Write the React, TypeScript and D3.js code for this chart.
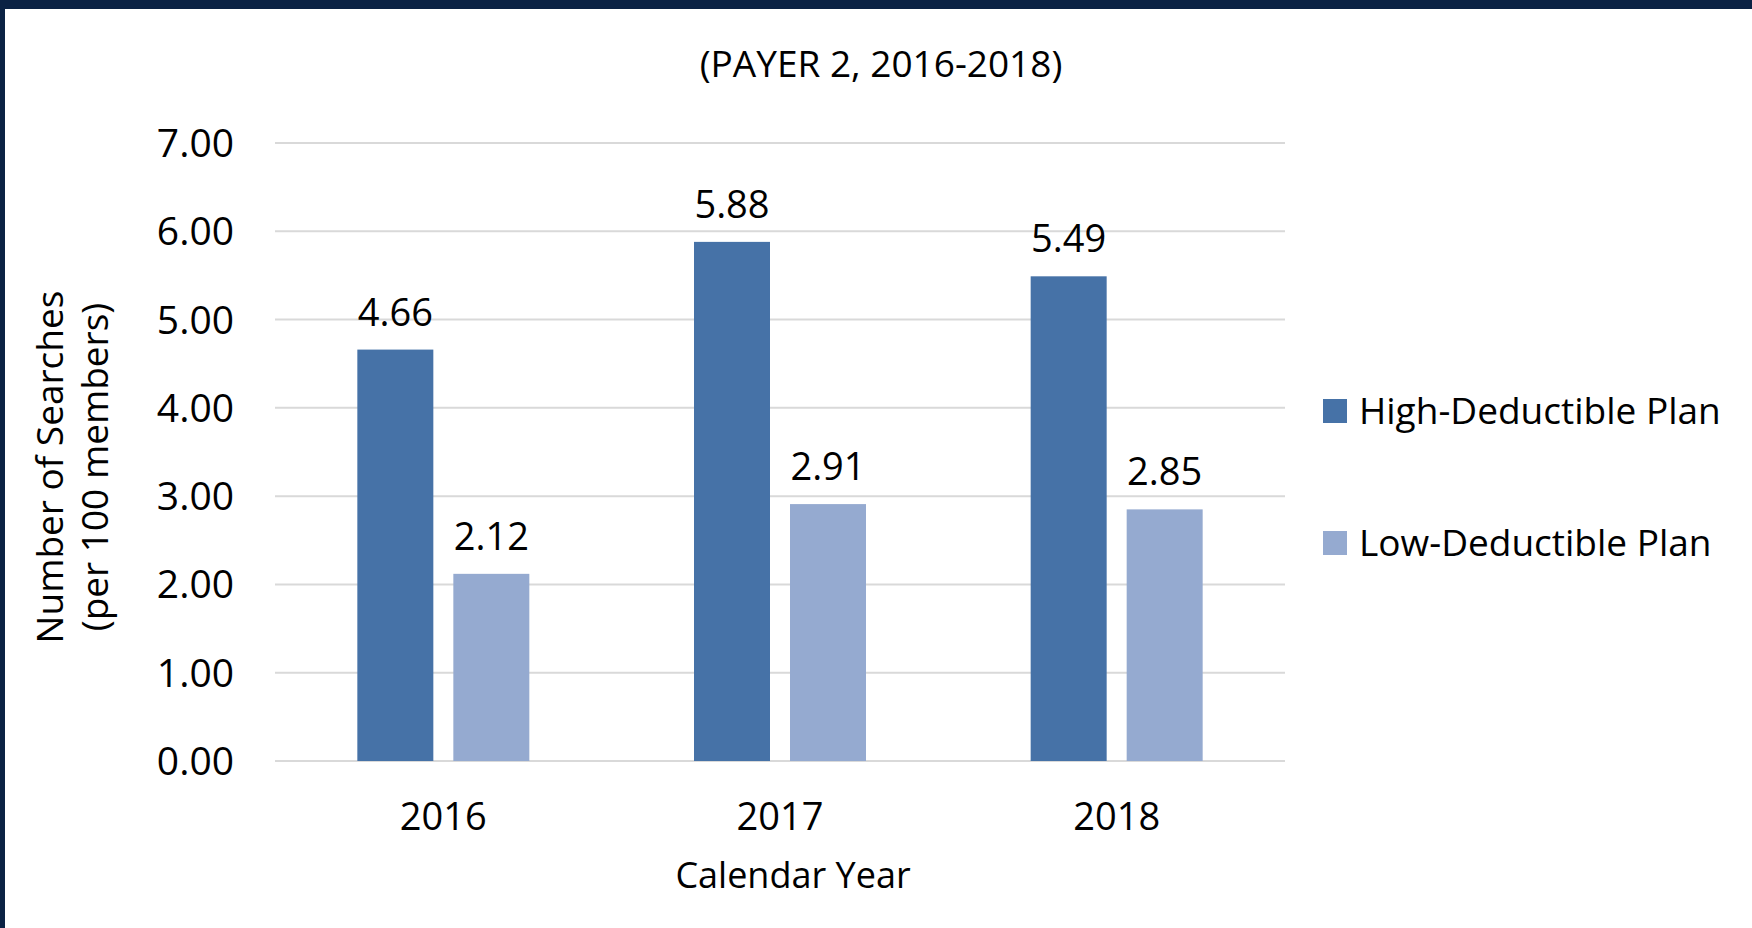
import React from "react";
import * as d3 from "d3";

const years = ["2016", "2017", "2018"];
const seriesNames = ["High-Deductible Plan", "Low-Deductible Plan"];
const highValues = [4.66, 5.88, 5.49];
const lowValues = [2.12, 2.91, 2.85];
const yTicks = [0, 1, 2, 3, 4, 5, 6, 7];
const colors = ["#4672A7", "#95AAD0"];

const W = 1752;
const H = 928;
const FONT = "'Open Sans', sans-serif";

export default function App() {
  const left = 275, right = 1285, top = 143, bottom = 761;
  const y = d3.scaleLinear().domain([0, 7]).range([bottom, top]);
  const x = d3.scaleBand().domain(years).range([left, right]).paddingInner(0).paddingOuter(0);
  const barW = 76, gap = 20;
  const series = [highValues, lowValues];
  const inner = d3.scaleBand().domain(["0", "1"]).range([0, barW * 2 + gap]).paddingInner(gap / (barW + gap));
  const groupW = barW * 2 + gap;

  return (
    <svg width={W} height={H} style={{ position: "absolute", left: 0, top: 0, background: "#fff" }} fontFamily={FONT}>
      <rect x={0} y={0} width={W} height={H} fill="#fff" />
      <rect x={0} y={0} width={W} height={9} fill="#0B2244" />
      <rect x={0} y={0} width={5} height={H} fill="#0B2244" />

      <text x={881} y={77} textAnchor="middle" fontSize={37} fill="#000">(PAYER 2, 2016-2018)</text>

      {yTicks.map((t) => (
        <g key={t}>
          <line x1={left} x2={right} y1={y(t)} y2={y(t)} stroke="#D9D9D9" strokeWidth={2} />
          <text x={234} y={y(t) + 14} textAnchor="end" fontSize={39} fill="#000">{t.toFixed(2)}</text>
        </g>
      ))}

      {years.map((yr, i) => {
        const gx = (x(yr) as number) + x.bandwidth() / 2 - groupW / 2;
        return (
          <g key={yr}>
            {series.map((vals, s) => {
              const bx = gx + (inner(String(s)) as number);
              const v = vals[i];
              return (
                <g key={s}>
                  <rect x={bx} y={y(v)} width={inner.bandwidth()} height={bottom - y(v)} fill={colors[s]} />
                  <text x={bx + inner.bandwidth() / 2} y={y(v) - 24} textAnchor="middle" fontSize={38} fill="#000">{v.toFixed(2)}</text>
                </g>
              );
            })}
            <text x={(x(yr) as number) + x.bandwidth() / 2} y={830} textAnchor="middle" fontSize={38} fill="#000">{yr}</text>
          </g>
        );
      })}

      <text x={793} y={888} textAnchor="middle" fontSize={36} fill="#000">Calendar Year</text>

      <g transform="translate(0,467) rotate(-90)">
        <text x={0} y={63} textAnchor="middle" fontSize={37} fill="#000">Number of Searches</text>
        <text x={0} y={108} textAnchor="middle" fontSize={37} fill="#000">(per 100 members)</text>
      </g>

      {seriesNames.map((n, i) => (
        <g key={n}>
          <rect x={1323} y={399 + i * 132} width={24} height={24} fill={colors[i]} />
          <text x={1359} y={424 + i * 132} fontSize={37} fill="#000">{n}</text>
        </g>
      ))}
    </svg>
  );
}
